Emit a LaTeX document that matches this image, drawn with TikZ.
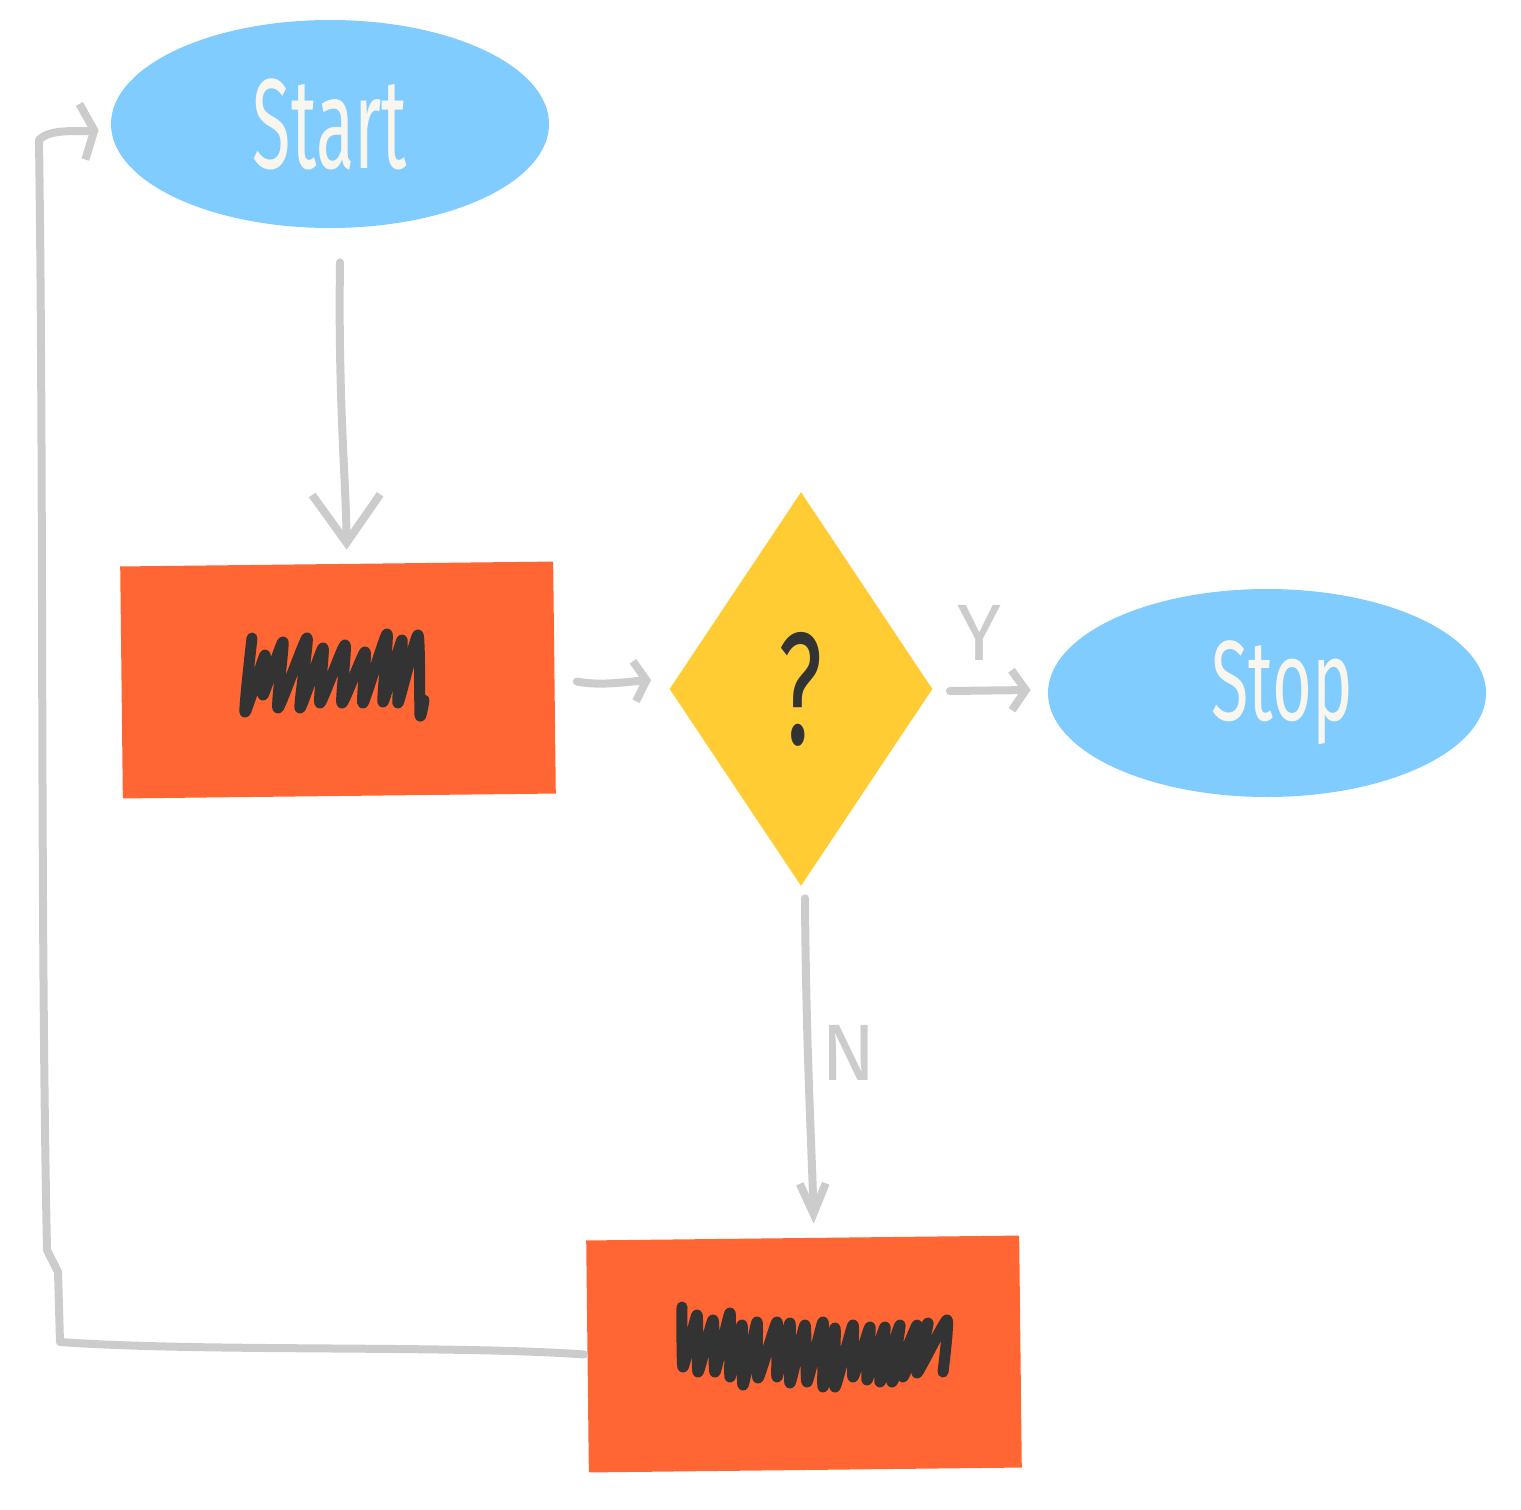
\documentclass[tikz,border=0pt]{standalone}
\usepackage{fontspec}
\setmainfont{Fira Sans}
\usetikzlibrary{shapes.geometric,arrows.meta,calc}
\definecolor{sky}{HTML}{80CCFF}
\definecolor{tang}{HTML}{FF6633}
\definecolor{sun}{HTML}{FFCC33}
\definecolor{wire}{HTML}{CCCCCC}
\definecolor{ink}{HTML}{333333}
\definecolor{chalk}{HTML}{F8F6EE}
\begin{document}
\begin{tikzpicture}[x=0.5pt,y=-0.5pt,
 terminal/.style={ellipse, fill=sky, minimum width=219pt, minimum height=104pt, inner sep=0pt, text=chalk},
 procbox/.style={rectangle, fill=tang, minimum width=216.5pt, minimum height=116pt, inner sep=0pt, rotate=0.65},
 decide/.style={diamond, fill=sun, minimum width=131.5pt, minimum height=197pt, inner sep=0pt, text=ink, font=\fontsize{80}{80}\selectfont},
 conn/.style={draw=wire, line width=4pt, line cap=round, line join=round},
 lbl/.style={text=wire, font=\fontsize{40}{40}\selectfont},
 scrib/.style={draw=ink, line width=5.5pt, line cap=round, line join=round},
]
\useasboundingbox (0,0) rectangle (1521,1510);

% nodes
\node[terminal, font=\fontsize{64}{64}\selectfont] (start) at (330,124) {\scalebox{0.55}[1]{Start}};
\node[procbox] (p1) at (338,680) {};
\node[decide] (q) at (801,689) {\scalebox{0.6}[1]{?}};
\node[terminal, font=\fontsize{57}{57}\selectfont] (stop) at (1267,693) {\hspace{15pt}\scalebox{0.6}[1]{Stop}};
\node[procbox] (p2) at (804,1354) {};

% scribbles
\draw[scrib] plot[smooth, tension=0.35] coordinates {(252,638) (245,712) (265,655) (263,695) (283,642) (278,708)
  (307,638) (300,708) (323,648) (320,703) (345,645) (342,703)
  (365,652) (363,703) (387,634) (383,702) (402,640) (398,703)
  (418,635) (420,715) (424,700)};
\draw[scrib] plot[smooth, tension=0.35] coordinates {(682,1307) (683,1367) (697,1315) (698,1372) (713,1320) (715,1372)
  (730,1313) (730,1377) (742,1325) (743,1385) (757,1322) (758,1378)
  (777,1322) (777,1377) (790,1323) (790,1383) (805,1325) (807,1382)
  (823,1322) (823,1387) (835,1328) (835,1387) (853,1325) (853,1377)
  (870,1327) (867,1380) (885,1327) (880,1382) (900,1325) (892,1382)
  (917,1325) (903,1377) (928,1323) (917,1373) (947,1320) (943,1372)};

% connectors
\draw[conn, -{Straight Barb[length=24pt,width=34pt]}]
  ($(start.south)+(10,34)$) .. controls (338,400) and (346,480) .. ($(p1.north)+(10,-14)$);
\draw[conn, -{Straight Barb[length=6pt,width=20pt]}]
  ($(p1.east)+(22,4)$) .. controls (600,686) and (625,682) .. ($(q.west)+(-18,-9)$);
\draw[conn, -{Straight Barb[length=7pt,width=20pt]}]
  ($(q.east)+(17,2)$) -- ($(stop.west)+(-17,-3)$);
\node[lbl] (ylab) at (979,633) {Y};
\draw[conn, -{Straight Barb[length=15pt,width=13pt]}]
  ($(q.south)+(4,12)$) .. controls (806,1050) and (812,1150) .. ($(p2.north)+(11,-14)$);
\node[lbl] (nlab) at (849,1053) {N};
\coordinate (c1) at (60,1342);
\coordinate (c2) at (58,1272);
\coordinate (c3) at (47,1250);
\coordinate (c4) at (39,140);
\draw[conn, -{Straight Barb[length=6pt,width=28pt]}]
  ($(p2.west)+(-3,-2)$) .. controls (450,1345) and (200,1352) .. (c1) -- (c2) -- (c3)
  .. controls (40,900) and (44,500) .. (c4) .. controls (50,128) and (80,132) .. ($(start.west)+(-12,6)$);
\end{tikzpicture}
\end{document}
